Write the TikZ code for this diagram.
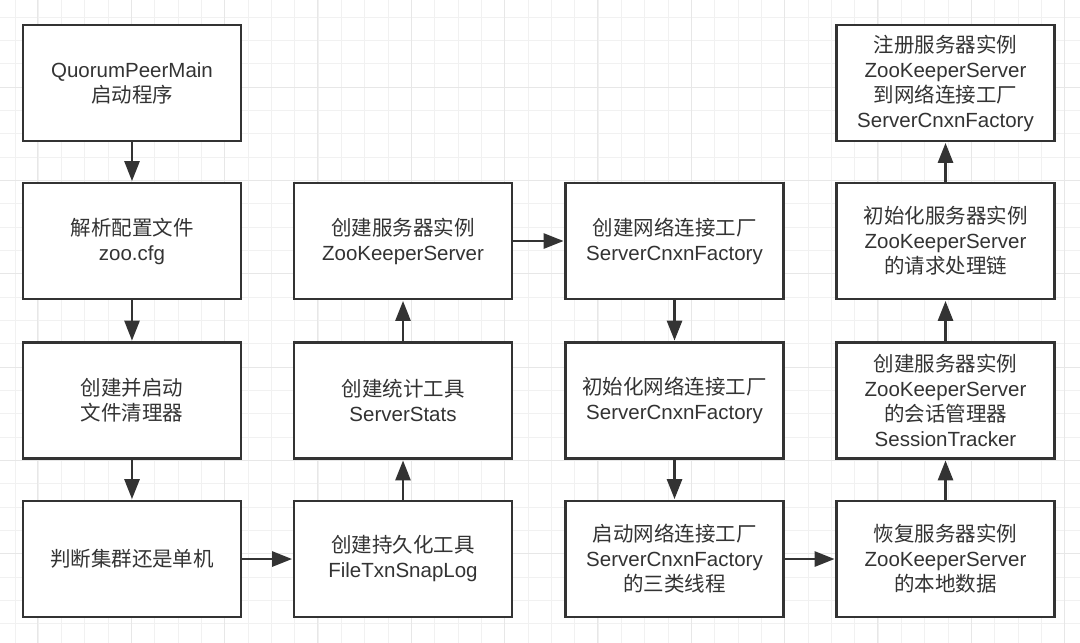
\documentclass[tikz,border=0pt]{standalone}
\usepackage{fontspec}
\setmainfont{Liberation Sans}
\newfontfamily\cjk{Noto Sans CJK SC}
\usetikzlibrary{arrows.meta}
\definecolor{ink}{HTML}{333333}
\definecolor{gridminor}{HTML}{F1F1F1}
\definecolor{gridmajor}{HTML}{E7E7E7}
\tikzset{
  stepbox/.style={draw=ink, line width=2.8pt, fill=white, minimum width=218pt, minimum height=116pt,
    inner sep=0pt, align=center, text=ink, font=\fontsize{20.5pt}{25pt}\selectfont},
  flow/.style={draw=ink, line width=2.8pt, -{Triangle[length=20pt,width=15pt]}, shorten >=0.5pt}
}
\begin{document}
\begin{tikzpicture}[x=1pt,y=-1pt]
\useasboundingbox (0,0) rectangle (1080,643);
\fill[white] (0,0) rectangle (1080,643);
% grid
\foreach \i in {0,...,46} {
  \draw[gridminor, line width=1pt] ({15+23.333*\i},0) -- ({15+23.333*\i},643);
}
\foreach \i in {0,...,27} {
  \draw[gridminor, line width=1pt] (0,{17.3+23.333*\i}) -- (1080,{17.3+23.333*\i});
}
\foreach \i in {0,...,11} {
  \draw[gridmajor, line width=1pt] ({37.7+93.333*\i},0) -- ({37.7+93.333*\i},643);
}
\foreach \i in {-1,...,6} {
  \draw[gridmajor, line width=1pt] (0,{87.3+93.333*\i}) -- (1080,{87.3+93.333*\i});
}
% column 1
\node[stepbox] (a1) at (132,83) {QuorumPeerMain\\{\cjk 启动程序}};
\node[stepbox] (a2) at (132,241) {{\cjk 解析配置文件}\\zoo.cfg};
\node[stepbox] (a3) at (132,400.5) {{\cjk 创建并启动}\\{\cjk 文件清理器}};
\node[stepbox] (a4) at (132,559) {{\cjk 判断集群还是单机}};
% column 2
\node[stepbox] (b2) at (403,241) {{\cjk 创建服务器实例}\\ZooKeeperServer};
\node[stepbox] (b3) at (403,400.5) {{\cjk 创建统计工具}\\ServerStats};
\node[stepbox] (b4) at (403,559) {{\cjk 创建持久化工具}\\FileTxnSnapLog};
% column 3
\node[stepbox] (c2) at (674.5,241) {{\cjk 创建网络连接工厂}\\ServerCnxnFactory};
\node[stepbox] (c3) at (674.5,400.5) {{\cjk 初始化网络连接工厂}\\ServerCnxnFactory};
\node[stepbox] (c4) at (674.5,559) {{\cjk 启动网络连接工厂}\\ServerCnxnFactory\\{\cjk 的三类线程}};
% column 4
\node[stepbox] (d1) at (945.5,83) {{\cjk 注册服务器实例}\\ZooKeeperServer\\{\cjk 到网络连接工厂}\\ServerCnxnFactory};
\node[stepbox] (d2) at (945.5,241) {{\cjk 初始化服务器实例}\\ZooKeeperServer\\{\cjk 的请求处理链}};
\node[stepbox] (d3) at (945.5,400.5) {{\cjk 创建服务器实例}\\ZooKeeperServer\\{\cjk 的会话管理器}\\SessionTracker};
\node[stepbox] (d4) at (945.5,559) {{\cjk 恢复服务器实例}\\ZooKeeperServer\\{\cjk 的本地数据}};
% connectors
\draw[flow] (a1) -- (a2);
\draw[flow] (a2) -- (a3);
\draw[flow] (a3) -- (a4);
\draw[flow] (a4) -- (b4);
\draw[flow] (b4) -- (b3);
\draw[flow] (b3) -- (b2);
\draw[flow] (b2) -- (c2);
\draw[flow] (c2) -- (c3);
\draw[flow] (c3) -- (c4);
\draw[flow] (c4) -- (d4);
\draw[flow] (d4) -- (d3);
\draw[flow] (d3) -- (d2);
\draw[flow] (d2) -- (d1);
\end{tikzpicture}
\end{document}
